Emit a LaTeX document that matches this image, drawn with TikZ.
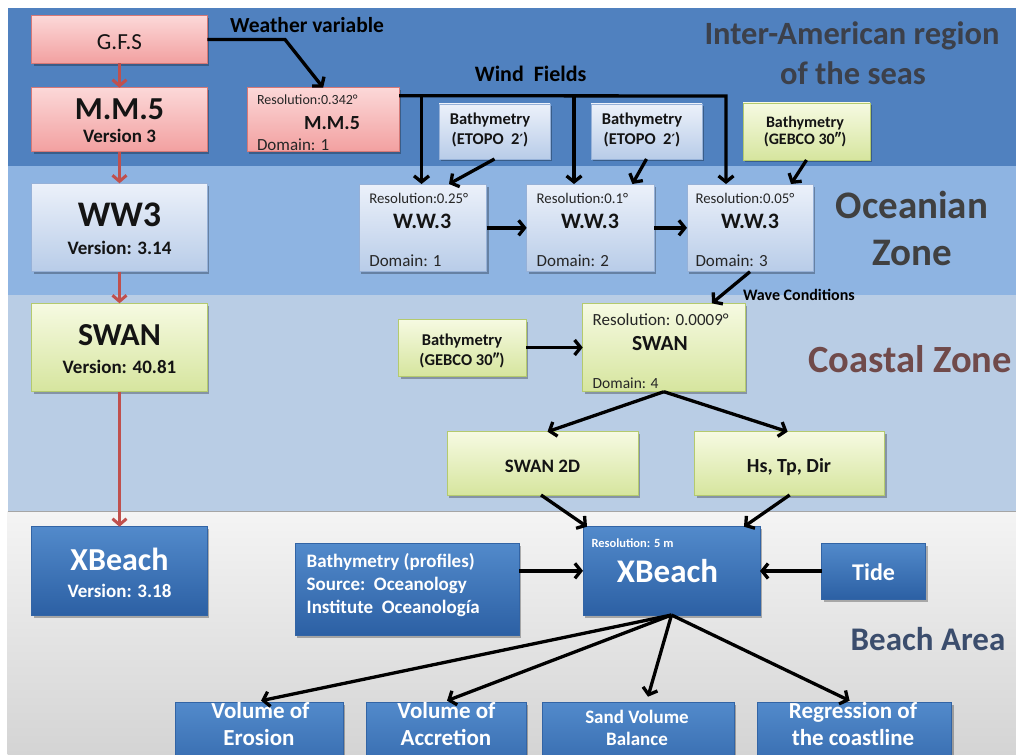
\documentclass[tikz,border=0pt]{standalone}
\usepackage{fontspec}
\setmainfont{Carlito}
\newfontfamily\primefont{DejaVu Sans}
\usetikzlibrary{arrows.meta,shadows}
\definecolor{bandA}{RGB}{80,129,191}
\definecolor{bandB}{RGB}{142,180,226}
\definecolor{bandC}{RGB}{185,205,229}
\definecolor{bandDtop}{RGB}{244,244,244}
\definecolor{bandDbot}{RGB}{212,212,212}
\definecolor{bandline}{RGB}{165,165,165}
\definecolor{pinkT}{RGB}{252,216,216}
\definecolor{pinkB}{RGB}{242,160,160}
\definecolor{pinkD}{RGB}{214,120,118}
\definecolor{lbT}{RGB}{236,241,250}
\definecolor{lbB}{RGB}{184,204,232}
\definecolor{lbD}{RGB}{150,177,216}
\definecolor{grT}{RGB}{246,250,226}
\definecolor{grB}{RGB}{214,229,158}
\definecolor{grD}{RGB}{180,202,110}
\definecolor{blT}{RGB}{82,138,203}
\definecolor{blB}{RGB}{44,96,164}
\definecolor{blD}{RGB}{50,100,165}
\definecolor{arrred}{RGB}{192,80,77}
\definecolor{lblA}{RGB}{60,64,74}
\definecolor{lblB}{RGB}{64,64,64}
\definecolor{lblC}{RGB}{112,74,74}
\definecolor{lblD}{RGB}{59,77,109}
\definecolor{txd}{RGB}{20,20,20}
\definecolor{txs}{RGB}{38,38,38}
\newcommand{\myfs}[1]{\fontsize{#1}{#1}\selectfont}
\newcommand{\myprime}{{\primefont\fontsize{14}{14}\selectfont ′}}
\newcommand{\mybox}[6]{\node[#2, anchor=north west, minimum width={#5pt-#3pt}, minimum height={#6pt-#4pt}] (#1) at (#3,#4) {};}
\begin{document}
\begin{tikzpicture}[x=1pt,y=-1pt,
  basebox/.style={draw, line width=0.8pt, inner sep=0pt, outer sep=0pt,
    general shadow={fill=black, opacity=0.28, shadow xshift=2pt, shadow yshift=-2.5pt}},
  pinkbox/.style={basebox, draw=pinkD, top color=pinkT, bottom color=pinkB},
  lbbox/.style={basebox, draw=lbD, top color=lbT, bottom color=lbB},
  grbox/.style={basebox, draw=grD, top color=grT, bottom color=grB},
  blbox/.style={basebox, draw=blD, top color=blT, bottom color=blB},
  tx/.style={inner sep=0pt, outer sep=0pt, anchor=base, text=txd},
  txl/.style={inner sep=0pt, outer sep=0pt, anchor=base west, text=txs},
  wt/.style={inner sep=0pt, outer sep=0pt, anchor=base, text=white},
  wtl/.style={inner sep=0pt, outer sep=0pt, anchor=base west, text=white},
  blk/.style={draw=black, line width=3.3pt, -{Straight Barb[length=6pt,width=15pt]}},
  redarr/.style={draw=arrred, line width=3pt, -{Straight Barb[length=6pt,width=14pt]}}
]
\path[use as bounding box] (0,0) rectangle (1016,754);
\fill[white] (0,0) rectangle (1016,754);
\clip (0,0) rectangle (1016,754);
% bands
\fill[bandA] (7.5,8) rectangle (1016,166.5);
\fill[bandB] (7.5,166.5) rectangle (1016,295);
\fill[bandC] (7.5,295) rectangle (1016,511.5);
\shade[top color=bandDtop, bottom color=bandDbot] (7.5,511.5) rectangle (1016,754);
\draw[line width=1.2pt, bandline] (7.5,511.5) -- (1016,511.5);
% region labels
\node[tx, text=lblA, font=\myfs{32.5}\bfseries] (lab1a) at (852,45) {Inter-American region};
\node[tx, text=lblA, font=\myfs{32.5}\bfseries] (lab1b) at (853,85) {of the seas};
\node[tx, text=lblB, font=\myfs{39}\bfseries] (lab2a) at (912,218) {Oceanian};
\node[tx, text=lblB, font=\myfs{39}\bfseries] (lab2b) at (912,265) {Zone};
\node[tx, text=lblC, font=\myfs{38.5}\bfseries] (lab3) at (910,372) {Coastal Zone};
\node[tx, text=lblD, font=\myfs{33}\bfseries] (lab4) at (928,650) {Beach Area};
% boxes
\mybox{gfs}{pinkbox}{31.7}{15.7}{207.3}{63.3}
\mybox{mmL}{pinkbox}{31.7}{87.7}{207.3}{151.7}
\mybox{wwL}{lbbox}{31.7}{183.3}{207.3}{271.7}
\mybox{swL}{grbox}{31.7}{303.3}{207.3}{391.7}
\mybox{xbL}{blbox}{31.7}{526.7}{207.3}{615}
\mybox{mmD}{pinkbox}{247.3}{87.7}{399}{151.7}
\mybox{bt1}{lbbox}{439}{104}{550}{159}
\mybox{bt2}{lbbox}{591}{104}{702}{159}
\mybox{bt3}{grbox}{743}{103}{870}{160}
\mybox{ww1}{lbbox}{359.3}{184}{486.7}{271.7}
\mybox{ww2}{lbbox}{526.7}{184}{654}{271.7}
\mybox{ww3}{lbbox}{687}{184}{813}{271.7}
\mybox{bt4}{grbox}{398.6}{319}{526}{376}
\mybox{sw}{grbox}{582.7}{303.3}{745}{391.7}
\mybox{s2d}{grbox}{447}{431.7}{638}{495}
\mybox{hs}{grbox}{694.7}{431.7}{884.6}{495}
\mybox{bp}{blbox}{295}{543.3}{519.3}{635}
\mybox{xb}{blbox}{583}{526.7}{760}{615}
\mybox{tide}{blbox}{821.8}{543}{925.5}{599}
\mybox{v1}{blbox}{175.3}{702.7}{342.9}{790}
\mybox{v2}{blbox}{366}{702.7}{526}{790}
\mybox{v3}{blbox}{542}{702.7}{734}{790}
\mybox{v4}{blbox}{757.7}{702.7}{951.5}{790}
% left column texts
\node[tx, font=\myfs{23}] (gfsT) at (119.5,50) {G.F.S};
\node[tx, font=\myfs{32}\bfseries] (mmLa) at (119.5,120) {M.M.5};
\node[tx, font=\myfs{19}\bfseries] (mmLb) at (119.5,143) {Version 3};
\node[tx, font=\myfs{36}\bfseries] (wwLa) at (119.5,226) {WW3};
\node[tx, font=\myfs{19}\bfseries] (wwLb) at (119.5,254) {Version: 3.14};
\node[tx, font=\myfs{32}\bfseries] (swLa) at (119.5,345) {SWAN};
\node[tx, font=\myfs{19}\bfseries] (swLb) at (119.5,373) {Version: 40.81};
\node[wt, font=\myfs{32}\bfseries] (xbLa) at (119.5,570) {XBeach};
\node[wt, font=\myfs{19}\bfseries] (xbLb) at (119.5,597) {Version: 3.18};
% top row texts
\node[tx, text=black, font=\myfs{21.5}\bfseries] (wvT) at (307,33) {Weather variable};
\node[tx, text=black, font=\myfs{22}\bfseries] (wfT) at (530.6,81.7) {Wind\ \ Fields};
\node[txl, font=\myfs{14}] (mmDa) at (257,105) {Resolution:0.342°};
\node[tx, font=\myfs{20}\bfseries] (mmDb) at (332,130) {M.M.5};
\node[txl, font=\myfs{17}] (mmDc) at (257,150) {Domain: 1};
\node[tx, font=\myfs{16.5}\bfseries] (bt1a) at (490,125) {Bathymetry};
\node[tx, font=\myfs{16.5}\bfseries] (bt1b) at (490,145) {(ETOPO\ \ 2\myprime)};
\node[tx, font=\myfs{16.5}\bfseries] (bt2a) at (642,125) {Bathymetry};
\node[tx, font=\myfs{16.5}\bfseries] (bt2b) at (642,145) {(ETOPO\ \ 2\myprime)};
\node[tx, font=\myfs{16}\bfseries] (bt3a) at (805,128) {Bathymetry};
\node[tx, font=\myfs{16}\bfseries] (bt3b) at (805,145) {(GEBCO 30″)};
% WW3 domain texts
\node[txl, font=\myfs{14.8}] (ww1a) at (369.3,203.5) {Resolution:0.25°};
\node[tx, font=\myfs{22}\bfseries] (ww1b) at (422.2,228) {W.W.3};
\node[txl, font=\myfs{17}] (ww1c) at (369.3,266.7) {Domain: 1};
\node[txl, font=\myfs{14.8}] (ww2a) at (536.7,203.5) {Resolution:0.1°};
\node[tx, font=\myfs{22}\bfseries] (ww2b) at (590,228) {W.W.3};
\node[txl, font=\myfs{17}] (ww2c) at (536.7,266.7) {Domain: 2};
\node[txl, font=\myfs{14.8}] (ww3a) at (695.5,203.5) {Resolution:0.05°};
\node[tx, font=\myfs{22}\bfseries] (ww3b) at (750,228) {W.W.3};
\node[txl, font=\myfs{17}] (ww3c) at (695.5,266.7) {Domain: 3};
\node[txl, text=black, font=\myfs{16}\bfseries] (wcT) at (743,300) {Wave Conditions};
% coastal texts
\node[tx, font=\myfs{16.5}\bfseries] (bt4a) at (462,345) {Bathymetry};
\node[tx, font=\myfs{16.5}\bfseries] (bt4b) at (462,365) {(GEBCO 30″)};
\node[txl, font=\myfs{17}] (swa) at (592.7,325) {Resolution: 0.0009°};
\node[tx, font=\myfs{21.5}\bfseries] (swb) at (660,350) {SWAN};
\node[txl, font=\myfs{15.5}] (swc) at (592.7,388) {Domain: 4};
\node[tx, font=\myfs{19}\bfseries] (s2dT) at (542.5,472) {SWAN 2D};
\node[tx, font=\myfs{20}\bfseries] (hsT) at (789,472) {Hs, Tp, Dir};
% beach texts
\node[wtl, font=\myfs{19}\bfseries] (bpa) at (306.7,567) {Bathymetry (profiles)};
\node[wtl, font=\myfs{19}\bfseries] (bpb) at (306.7,590) {Source:\ \ Oceanology};
\node[wtl, font=\myfs{19}\bfseries] (bpc) at (306.7,613) {Institute\ \ Oceanología};
\node[wtl, font=\myfs{12.5}\bfseries] (xba) at (591.5,547) {Resolution: 5 m};
\node[wt, font=\myfs{33}\bfseries] (xbb) at (667.5,582) {XBeach};
\node[wt, font=\myfs{24}\bfseries] (tideT) at (873.6,580) {Tide};
\node[wt, font=\myfs{23}\bfseries] (v1a) at (260.5,718) {Volume of};
\node[wt, font=\myfs{23}\bfseries] (v1b) at (259,745) {Erosion};
\node[wt, font=\myfs{23}\bfseries] (v2a) at (446.5,718) {Volume of};
\node[wt, font=\myfs{23}\bfseries] (v2b) at (446,745) {Accretion};
\node[wt, font=\myfs{19}\bfseries] (v3a) at (637,723) {Sand Volume};
\node[wt, font=\myfs{19}\bfseries] (v3b) at (637,745) {Balance};
\node[wt, font=\myfs{23}\bfseries] (v4a) at (853,718) {Regression of};
\node[wt, font=\myfs{23}\bfseries] (v4b) at (853,745) {the coastline};
% red arrows
\draw[redarr] (gfs.south) -- (mmL.north);
\draw[redarr] (mmL.south) -- (wwL.north);
\draw[redarr] (wwL.south) -- (swL.north);
\draw[redarr] (swL.south) -- (xbL.north);
% black connectors
\coordinate (wvk) at (285,39.5);
\draw[blk] (gfs.east) -- (wvk) -- (mmD.north);
\coordinate (wfS) at ([yshift=-8pt]mmD.north east);
\coordinate (wf1) at (421.5,96);
\coordinate (wf2) at (574,96);
\coordinate (wf3) at (726,96);
\draw[blk] (wfS) -- (wf3) -- (wf3 |- ww3.north);
\draw[blk] (wf1) -- (wf1 |- ww1.north);
\draw[blk] (wf2) -- (wf2 |- ww2.north);
\draw[blk] (bt1.south) -- ([xshift=26pt]ww1.north);
\draw[blk] (bt2.south) -- ([xshift=42pt]ww2.north);
\draw[blk] (bt3.south) -- ([xshift=41pt]ww3.north);
\draw[blk] (ww1.east) -- (ww2.west);
\draw[blk] (ww2.east) -- (ww3.west);
\draw[blk] (ww3.south) -- ([xshift=48pt]sw.north);
\draw[blk] (bt4.east) -- (sw.west);
\draw[blk] (sw.south) -- ([xshift=5pt]s2d.north);
\draw[blk] (sw.south) -- ([xshift=-2pt]hs.north);
\draw[blk] ([xshift=-1.5pt]s2d.south) -- ([xshift=-84.5pt]xb.north);
\draw[blk] (hs.south) -- ([xshift=72.5pt]xb.north);
\draw[blk] (bp.east |- xb.west) -- (xb.west);
\draw[blk] (tide.west) -- (xb.east |- tide.west);
\draw[blk] (xb.south) -- ([xshift=2pt,yshift=2pt]v1.north);
\draw[blk] (xb.south) -- ([xshift=1pt,yshift=2pt]v2.north);
\draw[blk] (xb.south) -- ([xshift=10pt,yshift=6pt]v3.north);
\draw[blk] (xb.south) -- ([xshift=-5pt,yshift=2pt]v4.north);
\end{tikzpicture}
\end{document}
